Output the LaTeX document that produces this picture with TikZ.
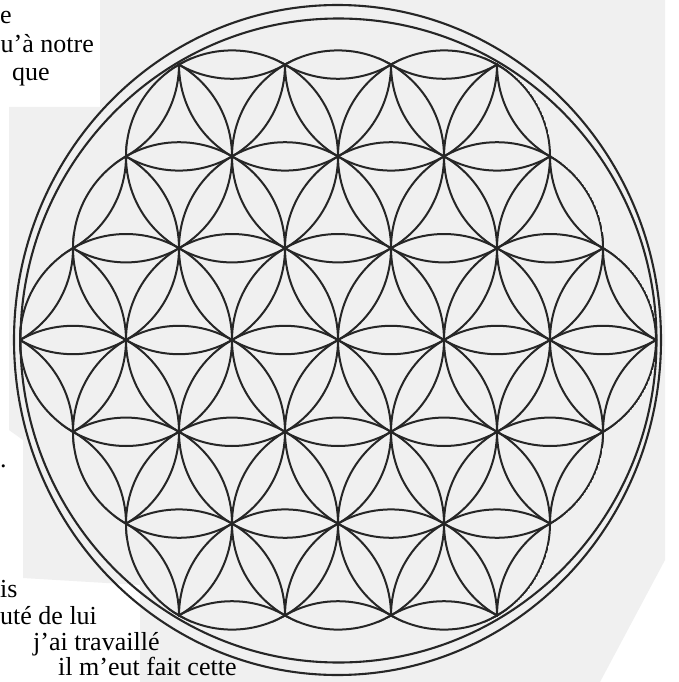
\documentclass[tikz,border=0pt]{standalone}
\usepackage{fontspec}
\setmainfont{Liberation Serif}
\begin{document}
\begin{tikzpicture}[x=1pt,y=-1pt,
  petal/.style={draw=black!85,line width=2pt},
  ring/.style={draw=black!85,line width=2.1pt},
  txt/.style={inner sep=0pt,font=\fontsize{26}{30}\selectfont,text=black}]
\useasboundingbox (0,0) rectangle (678,682);
\fill[white] (0,0) rectangle (678,682);
% scanned page tone
\fill[black!6] (100,0) -- (665,0) -- (665,560) -- (600,682) -- (140,682) -- (140,585) -- (23,578) -- (23,440) -- (9,430) -- (9,107) -- (100,107) -- cycle;
% flower of life
\def\r{106}
\def\h{91.8}
\begin{scope}
  \clip \foreach \i/\j in {0/0,1/0,-1/0,0/1,0/-1,1/-1,-1/1,2/0,-2/0,0/2,0/-2,2/-2,-2/2,1/1,-1/-1,2/-1,-2/1,1/-2,-1/2}
    {({338+\r*(\i+\j/2)},{340+\h*\j}) circle[radius=107pt]};
  \foreach \i in {-5,...,5}{
    \foreach \j in {-5,...,5}{
      \pgfmathtruncatemacro\d{(abs(\i)+abs(\j)+abs(\i+\j))/2}
      \ifnum\d<5
        \draw[petal] ({338+\r*(\i+\j/2)},{340+\h*\j}) circle[radius=106pt];
      \fi
    }
  }
\end{scope}
\draw[ring] (338.5,340.5) ellipse[x radius=318pt,y radius=322pt];
\draw[ring] (337.5,340) ellipse[x radius=323.5pt,y radius=335pt];
% text fragments
\node[txt,anchor=base west] (t1) at (0,24) {e};
\node[txt,anchor=base east] (t2) at (94,53) {u'à notre};
\node[txt,anchor=base west] (t3) at (12,81) {que};
\node[txt,anchor=base west] (t4) at (0,467) {.};
\node[txt,anchor=base west] (t5) at (0,597) {is};
\node[txt,anchor=base west] (t6) at (0,624) {uté de lui};
\node[txt,anchor=base west] (t7) at (33,650) {j'ai travaillé};
\node[txt,anchor=base west] (t8) at (58,675) {il m'eut fait cette};
\end{tikzpicture}
\end{document}
